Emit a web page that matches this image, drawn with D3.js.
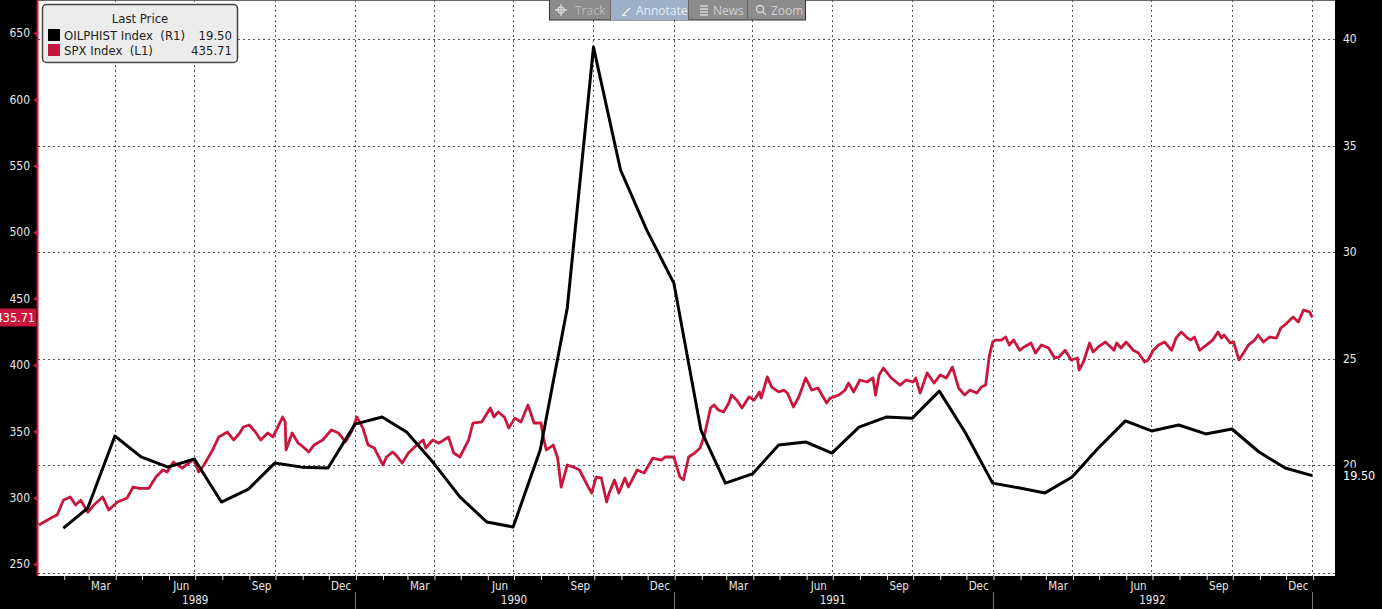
<!DOCTYPE html>
<html lang="en">
    <head>
        <meta charset="utf-8">
        <title>OILPHIST vs SPX</title>
        <script type="text/javascript" src="https://cdn.jsdelivr.net/npm/d3@7"></script>
        <style type="text/css">
           body { margin: 0; background: #000; }
           text { font-family: "DejaVu Sans Condensed", "DejaVu Sans", sans-serif; }
           .axis text { fill: #e8e8e8; font-size: 12px; }
           .grid line { stroke: #555; stroke-dasharray: 2,3; stroke-width: 1; }
        </style>
    </head>
    <body>
        <script type="text/javascript">

              var w = 1382;
              var h = 609;

              // S&P 500 (left axis)
              var spxSeries = [
                ["1989-01-03",279.4],["1989-01-09",281.6],["1989-01-19",285.4],["1989-01-24",287.0],["1989-01-31",298.0],
                ["1989-02-08",300.5],["1989-02-14",294.4],["1989-02-20",298.0],["1989-02-28",289.0],
                ["1989-03-07",294.4],["1989-03-17",300.5],["1989-03-24",290.7],
                ["1989-04-03",296.7],["1989-04-14",299.7],["1989-04-21",308.0],["1989-04-28",307.0],
                ["1989-05-09",307.0],["1989-05-17",315.5],["1989-05-25",320.8],["1989-05-30",319.3],
                ["1989-06-06",326.8],["1989-06-16",322.3],["1989-06-22",325.3],["1989-06-29",329.0],
                ["1989-07-05",319.3],["1989-07-11",324.6],["1989-07-21",336.0],["1989-07-28",345.7],
                ["1989-08-07",349.4],["1989-08-14",343.4],["1989-08-21",348.7],["1989-08-25",353.2],
                ["1989-09-01",354.7],["1989-09-08",349.4],["1989-09-14",343.4],["1989-09-22",348.7],["1989-09-28",345.7],
                ["1989-10-03",352.4],["1989-10-09",360.7],["1989-10-12",357.0],["1989-10-13",335.9],["1989-10-20",348.7],["1989-10-27",341.0],
                ["1989-11-02",338.0],["1989-11-08",334.4],["1989-11-14",339.6],["1989-11-24",343.4],
                ["1989-12-04",351.0],["1989-12-12",348.7],["1989-12-20",342.0],["1989-12-28",351.0],
                ["1990-01-02",360.7],["1990-01-09",352.4],["1990-01-15",339.6],["1990-01-22",337.4],["1990-01-29",328.3],
                ["1990-02-01",324.6],["1990-02-05",330.6],["1990-02-12",334.4],["1990-02-16",332.0],["1990-02-23",326.0],
                ["1990-03-02",333.6],["1990-03-09",338.0],["1990-03-19",343.4],["1990-03-22",337.4],["1990-03-30",343.4],
                ["1990-04-06",341.0],["1990-04-17",345.7],["1990-04-23",333.6],["1990-04-30",330.6],
                ["1990-05-10",343.4],["1990-05-15",356.2],["1990-05-25",357.0],
                ["1990-06-04",367.5],["1990-06-08",360.7],["1990-06-13",364.5],["1990-06-20",360.7],["1990-06-25",352.4],
                ["1990-07-02",359.9],["1990-07-09",357.0],["1990-07-17",369.8],["1990-07-24",356.2],
                ["1990-08-01",356.2],["1990-08-03",347.0],["1990-08-07",335.9],["1990-08-15",339.6],["1990-08-20",329.8],["1990-08-24",308.0],
                ["1990-08-31",324.6],["1990-09-07",323.0],["1990-09-14",320.8],["1990-09-24",308.0],["1990-09-28",303.5],
                ["1990-10-03",315.5],["1990-10-09",314.8],["1990-10-15",296.7],["1990-10-18",303.5],["1990-10-24",313.3],["1990-10-29",303.5],
                ["1990-11-05",314.8],["1990-11-09",308.0],["1990-11-19",320.8],["1990-11-27",318.5],
                ["1990-12-07",329.8],["1990-12-17",328.3],["1990-12-21",330.6],["1990-12-31",330.6],
                ["1991-01-07",315.5],["1991-01-11",313.3],["1991-01-17",330.6],["1991-01-24",333.6],["1991-01-30",337.4],
                ["1991-02-04",347.0],["1991-02-11",367.5],["1991-02-15",369.8],["1991-02-20",366.0],["1991-02-26",364.5],
                ["1991-03-04",371.3],["1991-03-07",377.3],["1991-03-13",373.5],["1991-03-19",367.5],["1991-03-27",375.8],
                ["1991-04-02",373.5],["1991-04-08",379.6],["1991-04-10",375.0],["1991-04-17",390.9],["1991-04-22",383.3],["1991-04-30",379.6],
                ["1991-05-06",381.0],["1991-05-10",378.8],["1991-05-17",368.3],["1991-05-23",375.8],
                ["1991-05-31",390.1],["1991-06-07",381.0],["1991-06-14",382.6],["1991-06-24",371.3],["1991-06-28",375.0],
                ["1991-07-08",377.3],["1991-07-15",381.0],["1991-07-19",386.3],["1991-07-25",379.6],
                ["1991-08-01",388.6],["1991-08-09",387.1],["1991-08-16",390.1],["1991-08-19",377.3],["1991-08-23",392.4],["1991-08-28",397.6],
                ["1991-09-06",390.1],["1991-09-16",384.8],["1991-09-23",388.6],
                ["1991-10-01",387.1],["1991-10-04",390.1],["1991-10-09",378.8],["1991-10-17",393.9],["1991-10-25",386.3],
                ["1991-11-01",392.4],["1991-11-08",390.1],["1991-11-15",398.4],["1991-11-22",382.6],["1991-11-29",377.3],
                ["1991-12-05",381.0],["1991-12-13",378.8],["1991-12-18",383.3],["1991-12-23",384.8],["1991-12-27",405.9],["1991-12-31",417.1],
                ["1992-01-03",418.7],["1992-01-10",418.7],["1992-01-15",421.0],["1992-01-19",415.0],["1992-01-24",418.7],["1992-01-31",411.0],
                ["1992-02-05",413.5],["1992-02-13",416.5],["1992-02-18",408.9],["1992-02-25",415.0],
                ["1992-03-04",412.7],["1992-03-11",405.2],["1992-03-16",405.9],["1992-03-23",411.0],["1992-03-30",403.7],
                ["1992-04-06",405.2],["1992-04-08",396.1],["1992-04-13",402.2],["1992-04-20",416.5],["1992-04-24",409.7],["1992-04-30",413.5],
                ["1992-05-08",417.2],["1992-05-18",411.0],["1992-05-21",416.5],["1992-05-26",412.7],
                ["1992-06-01",417.2],["1992-06-09",411.0],["1992-06-15",408.9],["1992-06-22",402.2],["1992-06-26",403.7],
                ["1992-07-02",411.0],["1992-07-08",415.0],["1992-07-15",417.2],["1992-07-23",411.0],["1992-07-28",420.2],
                ["1992-08-03",424.8],["1992-08-10",420.2],["1992-08-14",418.7],["1992-08-18",421.0],["1992-08-24",411.0],
                ["1992-09-01",415.0],["1992-09-08",418.7],["1992-09-14",424.8],["1992-09-18",420.2],["1992-09-21",422.5],["1992-09-28",416.5],
                ["1992-10-02",417.2],["1992-10-08",403.7],["1992-10-14",409.7],["1992-10-19",415.0],["1992-10-26",418.7],["1992-10-30",422.5],
                ["1992-11-05",417.2],["1992-11-12",421.0],["1992-11-20",420.2],["1992-11-25",427.8],
                ["1992-12-02",431.5],["1992-12-09",436.1],["1992-12-15",432.3],["1992-12-21",441.3],["1992-12-28",439.8],["1992-12-31",435.71]
              ];

              // monthly oil price (right axis), month-end
              var oilMonths = [
                "1989-01-31","1989-02-28","1989-03-31","1989-04-30","1989-05-31","1989-06-30",
                "1989-07-31","1989-08-31","1989-09-30","1989-10-31","1989-11-30","1989-12-31",
                "1990-01-31","1990-02-28","1990-03-31","1990-04-30","1990-05-31","1990-06-30",
                "1990-07-31","1990-08-31","1990-09-30","1990-10-31","1990-11-30","1990-12-31",
                "1991-01-31","1991-02-28","1991-03-31","1991-04-30","1991-05-31","1991-06-30",
                "1991-07-31","1991-08-31","1991-09-30","1991-10-31","1991-11-30","1991-12-31",
                "1992-01-31","1992-02-29","1992-03-31","1992-04-30","1992-05-31","1992-06-30",
                "1992-07-31","1992-08-31","1992-09-30","1992-10-31","1992-11-30","1992-12-31"
              ];
              var oilValues = [
                17.04, 17.98, 21.36, 20.38, 19.90, 20.28, 18.26, 18.87, 20.09, 19.90, 19.86, 21.92,
                22.25, 21.55, 20.09, 18.50, 17.32, 17.09, 20.70, 27.37, 39.62, 33.85, 31.03, 28.54,
                21.64, 19.15, 19.58, 20.94, 21.08, 20.56, 21.78, 22.25, 22.20, 23.47, 21.50, 19.15,
                18.92, 18.69, 19.44, 20.80, 22.07, 21.60, 21.88, 21.46, 21.69, 20.61, 19.86, 19.50
              ];

              var leftTicks = [250, 300, 350, 400, 450, 500, 550, 600, 650];
              var rightTicks = [20, 25, 30, 35, 40];
              var monthLabels = ["Mar", "Jun", "Sep", "Dec"];
              var years = [1989, 1990, 1991, 1992];
              var lastOil = "19.50";
              var lastSpx = "435.71";

              var red = "#c8163c";
              var parse = d3.utcParse("%Y-%m-%d");

              var plotL = 38, plotR = 1335, plotT = 0, plotB = 576;

              var x = d3.scaleUtc()
                        .domain([parse("1989-01-02"), parse("1993-01-26")])
                        .range([plotL, plotR]);
              var yL = d3.scaleLinear().domain([250, 650]).range([564, 33]);
              var yR = d3.scaleLinear().domain([20, 40]).range([465, 39]);

              var svg = d3.select("body")
                          .append("svg")
                          .attr("width", w)
                          .attr("height", h);

              svg.append("rect").attr("width", w).attr("height", h).attr("fill", "#000");
              svg.append("rect")
                 .attr("x", plotL).attr("y", plotT)
                 .attr("width", plotR - plotL).attr("height", plotB - plotT)
                 .attr("fill", "#fff");
              svg.append("line")
                 .attr("x1", plotL).attr("x2", plotR).attr("y1", 0.5).attr("y2", 0.5)
                 .attr("stroke", "#666").attr("stroke-width", 1);

              // grid
              var grid = svg.append("g").attr("class", "grid");
              grid.selectAll("line.h")
                  .data(rightTicks)
                  .enter()
                  .append("line")
                  .attr("class", "h")
                  .attr("x1", plotL).attr("x2", plotR)
                  .attr("y1", function(d) { return Math.round(yR(d)) + 0.5; })
                  .attr("y2", function(d) { return Math.round(yR(d)) + 0.5; });
              grid.append("line")
                  .attr("x1", plotL).attr("x2", plotR)
                  .attr("y1", 573.5).attr("y2", 573.5);

              var quarters = d3.utcMonth.every(3).range(parse("1989-04-01"), parse("1993-01-02"));
              grid.selectAll("line.v")
                  .data(quarters)
                  .enter()
                  .append("line")
                  .attr("class", "v")
                  .attr("y1", plotT).attr("y2", plotB)
                  .attr("x1", function(d) { return Math.round(x(d)) - 0.5; })
                  .attr("x2", function(d) { return Math.round(x(d)) - 0.5; });

              // lines
              var spxLine = d3.line()
                              .x(function(d) { return x(parse(d[0])); })
                              .y(function(d) { return yL(d[1]); });
              svg.append("path")
                 .datum(spxSeries)
                 .attr("fill", "none")
                 .attr("stroke", red)
                 .attr("stroke-width", 2.8)
                 .attr("stroke-linejoin", "round")
                 .attr("d", spxLine);

              var oilLine = d3.line()
                              .x(function(d, i) { return x(parse(oilMonths[i])); })
                              .y(function(d) { return yR(d); });
              svg.append("path")
                 .datum(oilValues)
                 .attr("fill", "none")
                 .attr("stroke", "#000")
                 .attr("stroke-width", 3)
                 .attr("stroke-linejoin", "round")
                 .attr("d", oilLine);

              // left axis
              var leftAxis = svg.append("g")
                                .attr("class", "axis")
                                .attr("transform", "translate(" + plotL + ",0)")
                                .call(d3.axisLeft(yL).tickValues(leftTicks).tickSize(0).tickPadding(8));
              leftAxis.select(".domain").remove();
              leftAxis.selectAll(".tick").append("path")
                      .attr("d", "M-1,-2.5L-5,0L-1,2.5Z")
                      .attr("fill", red);
              svg.append("line")
                 .attr("x1", plotL - 0.5).attr("x2", plotL - 0.5)
                 .attr("y1", 0).attr("y2", plotB)
                 .attr("stroke", red).attr("stroke-width", 2);

              svg.append("rect")
                 .attr("x", 0).attr("y", yL(+lastSpx) - 9)
                 .attr("width", plotL - 2).attr("height", 18)
                 .attr("fill", red);
              svg.append("text")
                 .attr("x", plotL - 3).attr("y", yL(+lastSpx) + 4.5)
                 .attr("text-anchor", "end")
                 .attr("fill", "#fff")
                 .style("font-size", "12.5px")
                 .text(lastSpx);

              // right axis
              var rightAxis = svg.append("g")
                                 .attr("class", "axis")
                                 .attr("transform", "translate(" + plotR + ",0)")
                                 .call(d3.axisRight(yR).tickValues(rightTicks).tickSize(0).tickPadding(8));
              rightAxis.select(".domain").remove();

              svg.append("rect")
                 .attr("x", plotR + 1).attr("y", yR(+lastOil) - 8)
                 .attr("width", w - plotR).attr("height", 16)
                 .attr("fill", "#000");
              svg.append("text")
                 .attr("x", plotR + 8).attr("y", yR(+lastOil) + 4.5)
                 .attr("fill", "#fff")
                 .style("font-size", "12.5px")
                 .text(lastOil);

              // bottom axis
              var bottomAxis = svg.append("g")
                                  .attr("class", "axis")
                                  .attr("transform", "translate(0," + plotB + ")")
                                  .call(d3.axisBottom(x)
                                          .ticks(d3.utcMonth.every(1))
                                          .tickSize(4)
                                          .tickFormat(""));
              bottomAxis.select(".domain").remove();
              bottomAxis.selectAll(".tick line").attr("stroke", "#ddd");

              var labelMonths = [];
              years.forEach(function(yr) {
                  monthLabels.forEach(function(m) {
                      labelMonths.push(d3.utcParse("%Y %b %d")(yr + " " + m + " 15"));
                  });
              });
              svg.selectAll("text.month")
                 .data(labelMonths)
                 .enter()
                 .append("text")
                 .attr("class", "month")
                 .attr("x", function(d) { return x(d); })
                 .attr("y", 590)
                 .attr("text-anchor", "middle")
                 .attr("fill", "#e8e8e8")
                 .style("font-size", "11.5px")
                 .text(function(d) { return d3.utcFormat("%b")(d); });

              svg.selectAll("text.year")
                 .data(years)
                 .enter()
                 .append("text")
                 .attr("class", "year")
                 .attr("x", function(d) { return x(parse(d + "-07-01")); })
                 .attr("y", 604)
                 .attr("text-anchor", "middle")
                 .attr("fill", "#e8e8e8")
                 .style("font-size", "11.5px")
                 .text(function(d) { return d; });

              svg.selectAll("line.yearsep")
                 .data(years)
                 .enter()
                 .append("line")
                 .attr("class", "yearsep")
                 .attr("x1", function(d) { return Math.round(x(parse((d + 1) + "-01-01"))) - 0.5; })
                 .attr("x2", function(d) { return Math.round(x(parse((d + 1) + "-01-01"))) - 0.5; })
                 .attr("y1", 592).attr("y2", h)
                 .attr("stroke", "#777");

              // legend
              var legend = svg.append("g");
              legend.append("rect")
                    .attr("x", 42.5).attr("y", 4.5)
                    .attr("width", 195).attr("height", 58)
                    .attr("rx", 4)
                    .attr("fill", "#ececec")
                    .attr("stroke", "#444")
                    .attr("stroke-width", 1.5);
              legend.append("text")
                    .attr("x", 140).attr("y", 23)
                    .attr("text-anchor", "middle")
                    .attr("fill", "#222")
                    .style("font-size", "13px")
                    .text("Last Price");
              var legendRows = [
                  { name: "OILPHIST Index  (R1)", color: "#000", last: lastOil },
                  { name: "SPX Index  (L1)", color: red, last: lastSpx }
              ];
              var rows = legend.selectAll("g.row")
                               .data(legendRows)
                               .enter()
                               .append("g")
                               .attr("class", "row")
                               .attr("transform", function(d, i) { return "translate(0," + (i * 15) + ")"; });
              rows.append("rect")
                  .attr("x", 48).attr("y", 29)
                  .attr("width", 12).attr("height", 12)
                  .attr("fill", function(d) { return d.color; });
              rows.append("text")
                  .attr("x", 64).attr("y", 39.5)
                  .attr("fill", "#222")
                  .style("font-size", "13px")
                  .style("white-space", "pre")
                  .text(function(d) { return d.name; });
              rows.append("text")
                  .attr("x", 232).attr("y", 39.5)
                  .attr("text-anchor", "end")
                  .attr("fill", "#222")
                  .style("font-size", "13px")
                  .text(function(d) { return d.last; });

              // toolbar
              var bar = svg.append("g").attr("transform", "translate(549,0)");
              bar.append("rect")
                 .attr("x", 0.5).attr("y", -1)
                 .attr("width", 256).attr("height", 21)
                 .attr("fill", "#8c8c8c")
                 .attr("stroke", "#333");
              bar.append("rect")
                 .attr("x", 62).attr("y", 0)
                 .attr("width", 77).attr("height", 20)
                 .attr("fill", "#9eb0c8");
              [61, 139, 198].forEach(function(sx) {
                  bar.append("line")
                     .attr("x1", sx + 0.5).attr("x2", sx + 0.5)
                     .attr("y1", 0).attr("y2", 20)
                     .attr("stroke", "#6a6a6a");
              });
              var tools = [
                  { label: "Track", x: 26, color: "#b8b8b8" },
                  { label: "Annotate", x: 87, color: "#e6ecf4" },
                  { label: "News", x: 164, color: "#d0d0d0" },
                  { label: "Zoom", x: 222, color: "#d0d0d0" }
              ];
              bar.selectAll("text.tool")
                 .data(tools)
                 .enter()
                 .append("text")
                 .attr("class", "tool")
                 .attr("x", function(d) { return d.x; })
                 .attr("y", 15)
                 .attr("fill", function(d) { return d.color; })
                 .style("font-family", "'Open Sans', sans-serif")
                 .style("font-size", "12px")
                 .text(function(d) { return d.label; });
              // icons
              var ic = bar.append("g").attr("stroke", "#d8d8d8").attr("fill", "none").attr("stroke-width", 1.3);
              ic.append("circle").attr("cx", 12).attr("cy", 10).attr("r", 3);
              ic.append("path").attr("d", "M12,4V16M6,10H18");
              ic.append("path").attr("d", "M74,15L81,8").attr("stroke", "#f0f0f0");
              ic.append("path").attr("d", "M73,15.5H77").attr("stroke", "#f0f0f0");
              ic.append("path").attr("d", "M151,6H159M151,9H159M151,12H159M151,15H159");
              ic.append("circle").attr("cx", 211).attr("cy", 9).attr("r", 3.5);
              ic.append("path").attr("d", "M213.5,11.5L217,15");

        </script>
    </body>
</html>
